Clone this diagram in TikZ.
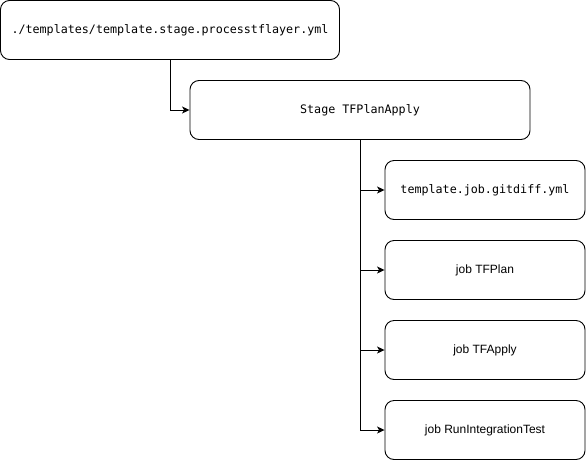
\documentclass[tikz,border=0pt]{standalone}
\usepackage{fontspec}
\setmainfont{Liberation Sans}
\setmonofont{DejaVu Sans Mono}
\usetikzlibrary{arrows.meta}

\begin{document}
\begin{tikzpicture}[> = {Stealth[length = 7.5pt, width = 7pt, inset = 2pt]}, x = 1pt, y = -1pt,
	box/.style = {draw, rounded corners = 9pt, line width = 0.9pt, inner sep = 0pt, minimum height = 59pt},
	mono/.style = {font = \fontsize{11.7}{14}\selectfont\ttfamily},
	plain/.style = {font = \fontsize{12}{14}\selectfont}]

	\useasboundingbox (0, 0) rectangle (586, 461);

	% Stage template
	
	\node [box, mono, minimum width = 339pt] (file) at (170, 30) {./templates/template.stage.processtflayer.yml};
	\node [box, mono, minimum width = 340pt] (stage) at (360, 110) {Stage TFPlanApply};
	
	% Jobs
	
	\node [box, mono, minimum width = 200pt] (gitdiff) at (485, 190) {template.job.gitdiff.yml};
	\node [box, plain, minimum width = 200pt] (plan) at (485, 270) {job TFPlan};
	\node [box, plain, minimum width = 200pt] (apply) at (485, 350) {job TFApply};
	\node [box, plain, minimum width = 200pt] (test) at (485, 430) {job RunIntegrationTest};
	
	% Connectors
	
	\draw [line width = 0.9pt, ->] (file.south) |- (stage.west);
	\foreach \j in {gitdiff, plan, apply, test}
		\draw [line width = 0.9pt, ->] (stage.south) |- (\j.west);

\end{tikzpicture}
\end{document}
